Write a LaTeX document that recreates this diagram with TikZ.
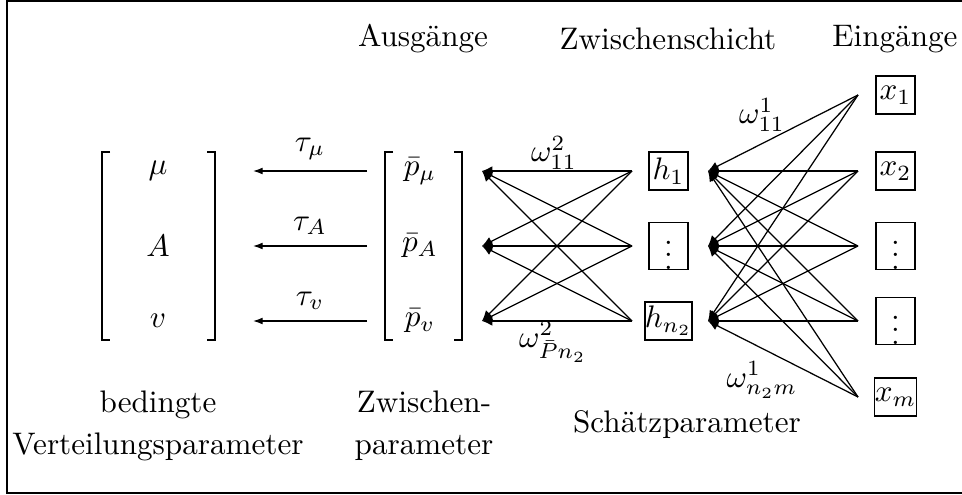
\documentclass[tikz,border=0pt]{standalone}
\usepackage{amsmath,amssymb}
\usepackage{tikz}
\usetikzlibrary{arrows.meta}

\begin{document}
\begin{tikzpicture}[x=0.321pt,y=-0.321pt,
  unit/.style={draw,inner sep=0pt,minimum width=12.5pt,minimum height=12.2pt},
  conn/.style={-{Latex[length=3.3pt,width=3.1pt]}},
  tauarrow/.style={-{Latex[length=3.1pt,width=2.2pt]}}]
\useasboundingbox (0,0) rectangle (962,495);
\draw (7,1) rectangle (985,493);
% titles
\node[anchor=base] (tout) at (423,47) {Ausgänge};
\node[anchor=base] (thid) at (668,50) {Zwischenschicht};
\node[anchor=base] (tin) at (895,47) {Eingänge};
% brackets
\foreach \l/\r in {102/215,385/462}{
  \draw (\l+8,152) -- (\l,152) -- (\l,340) -- (\l+8,340);
  \draw (\r-8,152) -- (\r,152) -- (\r,340) -- (\r-8,340);
}
% parameters and tau arrows
\foreach \n/\y/\s in {mu/171/\mu,A/246/A,v/321/v}{
  \node (d\n) at (158,\y) {$\s$};
  \node (p\n) at (420,\y) {$\bar p_{\s}$};
  \coordinate (a\n) at (367,\y); \coordinate (b\n) at (253,\y);
  \draw[tauarrow] (a\n) -- node[above] {$\tau_{\s}$} (b\n);
}
% hidden layer
\foreach \i/\y/\s in {1/171/h_1,2/246/\vdots,3/321/h_{n_2}}{
  \node[unit] (h\i) at (668.5,\y) {$\s$};
  \coordinate (u\i) at (632,\y); \coordinate (v\i) at (482,\y);
  \coordinate (t\i) at (708,\y);
}
% inputs
\foreach \j/\y/\s in {1/95/x_1,2/171/x_2,3/246/\vdots,4/321/\vdots,5/397/x_m}{
  \node[unit] (x\j) at (895.5,\y) {$\s$};
  \coordinate (s\j) at (858,\y);
}
% weights
\foreach \i in {1,2,3} \foreach \k in {1,2,3} \draw[conn] (u\i) -- (v\k);
\foreach \j in {1,...,5} \foreach \i in {1,2,3} \draw[conn] (s\j) -- (t\i);
\node (w2a) at (554,153) {$\omega^2_{11}$};
\node (w2b) at (553,342) {$\omega^2_{\bar P n_2}$};
\node (w1a) at (762,115) {$\omega^1_{11}$};
\node (w1b) at (762,380) {$\omega^1_{n_2m}$};
% captions
\node[align=center] (cdist) at (158,426) {bedingte\\[1.4pt]Verteilungsparameter};
\node[align=center] (cmid) at (424,426) {Zwischen-\\[1.4pt]parameter};
\node[anchor=base] (cest) at (687,433) {Schätzparameter};
\end{tikzpicture}
\end{document}
